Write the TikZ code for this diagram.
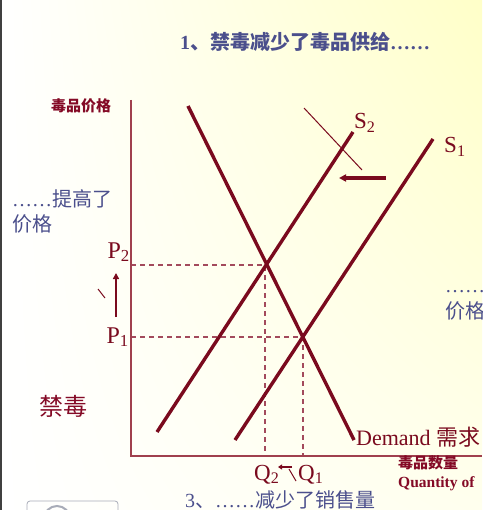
\documentclass[tikz,border=0pt]{standalone}
\usepackage{fontspec}
\setmainfont{Liberation Serif}
\newfontfamily\cjk{Noto Sans CJK SC}
\usetikzlibrary{arrows.meta,positioning,shadings}
\definecolor{cLine}{HTML}{7A0A1E}
\definecolor{cAxis}{HTML}{A0404E}
\definecolor{cDash}{HTML}{A34A5C}
\definecolor{cBlue}{HTML}{4B4F8C}
\definecolor{cRed} {HTML}{840A26}
\definecolor{cBgTop}{HTML}{FFFFC8}
\definecolor{cBgBot}{HTML}{FFFFEE}
\definecolor{cBox}{HTML}{A8ACB8}
\newcommand\elp{{\rmfamily ……}}
\tikzset{
  crv/.style    ={draw=cLine,line width=3.4pt},
  axisln/.style ={draw=cAxis,line width=1.8pt},
  guide/.style  ={draw=cDash,line width=1.4pt,dash pattern=on 5pt off 4pt},
  hairln/.style ={draw=cLine,line width=1pt},
  movearr/.style={-{Triangle[length=7pt,width=7pt]},draw=cLine,line width=3.2pt},
  note/.style   ={font=\cjk\fontsize{20}{24}\selectfont,text=cBlue,inner sep=0pt},
  lbl/.style    ={font=\fontsize{23}{25}\selectfont,text=cLine,inner sep=0pt},
  axlbl/.style  ={font=\cjk\bfseries\fontsize{15}{17}\selectfont,text=cRed,inner sep=0pt},
}

\begin{document}
\begin{tikzpicture}[x=1pt,y=-1pt]
\clip (0,0) rectangle (482,510);
\shade[upper left=white,upper right=cBgTop,lower left=white,lower right=cBgBot]
  (0,0) rectangle (482,510);
\fill[black!75] (0,0) rectangle (2,510);

% axes
\coordinate (o)    at (131,456);
\coordinate (ytop) at (131,100);
\coordinate (xend) at (482,456);

% equilibria and price / quantity guides
\coordinate (e2) at (265,265);
\coordinate (e1) at (303,337);
\draw[guide] (o |- e2) -- (e2) -- (e2 |- o);
\draw[guide] (o |- e1) -- (e1) -- (e1 |- o);
\draw[axisln] (ytop) -- (o) -- (xend);

% demand and the two supply lines
\coordinate (d0)  at (188,106); \coordinate (d1)  at (354,440);
\coordinate (s2a) at (157,432); \coordinate (s2b) at (353,132);
\coordinate (s1a) at (235,440); \coordinate (s1b) at (433,139);
\draw[crv] (d0) -- (d1);
\draw[crv] (s2a) -- (s2b);
\draw[crv] (s1a) -- (s1b);

\node[lbl,anchor=base west] (s2)  at (354,129) {S\textsubscript{2}};
\node[lbl,anchor=base west] (s1)  at (444,153) {S\textsubscript{1}};
\node[lbl,font=\fontsize{22}{24}\selectfont,anchor=base west] (dem) at (356,445) {Demand {\cjk 需求}};

% supply shift
\coordinate (hx0) at (304,108); \coordinate (hx1) at (362,170);
\draw[hairln] (hx0) -- (hx1);
\coordinate (sh0) at (386,178); \coordinate (sh1) at (339,178);
\draw[movearr] (sh0) -- (sh1);

% prices
\node[lbl,font=\fontsize{24}{26}\selectfont,anchor=base east] (p2) at (130,258) {P\textsubscript{2}};
\node[lbl,font=\fontsize{24}{26}\selectfont,anchor=base east] (p1) at (129,343) {P\textsubscript{1}};
\coordinate (pu0) at (116,317); \coordinate (pu1) at (116,273);
\draw[movearr,line width=2.6pt,-{Triangle[length=6pt,width=6pt]}] (pu0) -- (pu1);
\coordinate (pk0) at (98,289); \coordinate (pk1) at (105,298);
\draw[hairln] (pk0) -- (pk1);

% quantities
\node[lbl,anchor=base west] (q2) at (254,480) {Q\textsubscript{2}};
\node[lbl,anchor=base west] (q1) at (298,480) {Q\textsubscript{1}};
\coordinate (qa0) at (292,467); \coordinate (qa1) at (278,467);
\draw[hairln,line width=1.6pt,-{Triangle[length=4pt,width=5pt]}] (qa0) -- (qa1);
\coordinate (qk0) at (289,469); \coordinate (qk1) at (296,481);
\draw[hairln] (qk0) -- (qk1);

% axis titles
\node[axlbl,anchor=base west] (ylab) at (51,112) {毒品价格};
\node[axlbl,anchor=base west] (xlab) at (398,468) {毒品数量};
\node[axlbl,font=\bfseries\fontsize{15.5}{17}\selectfont,anchor=base west] (xlab2) at (398,487) {Quantity of};

% notes
\node[note,font=\cjk\bfseries\fontsize{20}{24}\selectfont,anchor=base west] (title) at (180,50)
  {{\rmfamily 1}、禁毒减少了毒品供给\elp};
\node[note,anchor=base west] (up1) at (12,207) {\elp 提高了};
\node[note,anchor=base west] (up2) at (12,232) {价格};
\node[note,anchor=base west] (rt1) at (445,292) {\elp};
\node[note,anchor=base west] (rt2) at (445,318) {价格};
\node[note,anchor=base west] (low) at (185,507) {{\rmfamily 3}、\elp 减少了销售量};
\node[lbl,font=\cjk\fontsize{24}{26}\selectfont,text=cRed,anchor=base west] (ban) at (39,415) {禁毒};

% partly visible button
\draw[cBox,line width=0.8pt,rounded corners=3pt] (27,501) rectangle (118,530);
\draw[cBox,line width=2pt] (57,519) circle (13);
\end{tikzpicture}
\end{document}
